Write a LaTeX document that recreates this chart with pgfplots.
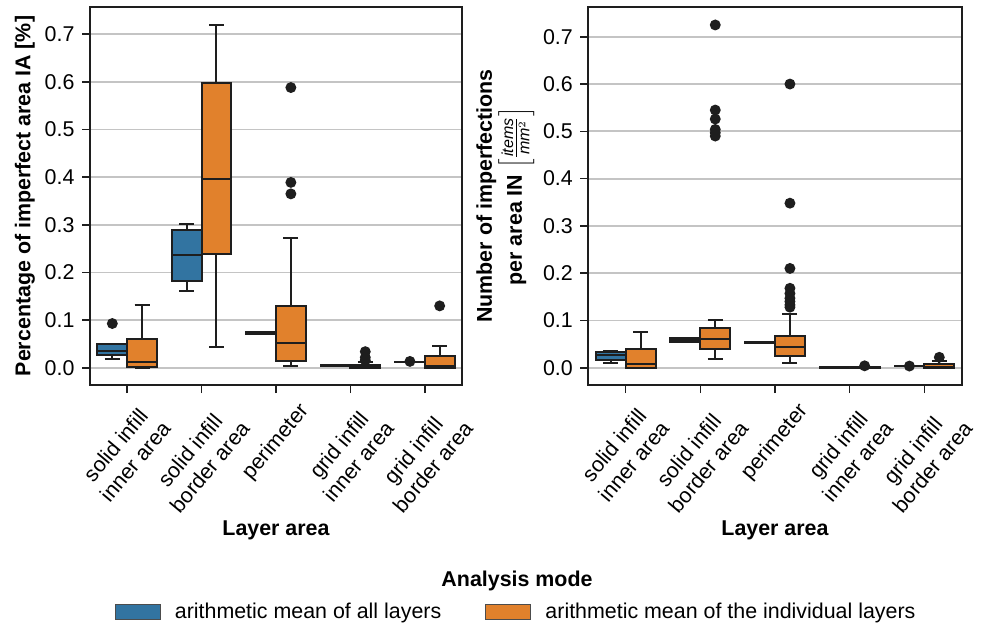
\documentclass[border=0pt]{standalone}
\usepackage{pgfplots}
\pgfplotsset{compat=1.18}
\usepgfplotslibrary{statistics}
\usepackage{fontspec}
\setmainfont{Liberation Sans}
\usepackage{graphicx}
\definecolor{c1}{HTML}{3274A1}
\definecolor{c2}{HTML}{E1812C}
\definecolor{edge}{HTML}{1E1E1E}
\definecolor{gridc}{HTML}{C4C4C4}
\newcommand{\fs}{\fontsize{10.7}{12.8}\selectfont}
\pgfplotsset{
  bblue/.style={draw=edge, fill=c1, line width=1pt, solid, mark=*, mark size=2.2pt,
      mark options={fill=edge, draw=edge, solid}},
  borange/.style={draw=edge, fill=c2, line width=1pt, solid, mark=*, mark size=2.2pt,
      mark options={fill=edge, draw=edge, solid}},
  common/.style={
    scale only axis, width=186pt, height=189pt,
    xmin=-0.5, xmax=4.5,
    xtick={0,1,2,3,4},
    ytick={0,0.1,0.2,0.3,0.4,0.5,0.6,0.7},
    tick pos=left, tick align=outside, major tick length=4pt,
    tick style={edge, line width=0.8pt},
    axis line style={edge, line width=1pt},
    ymajorgrids, grid style={gridc, line width=0.9pt},
    /pgf/number format/assume math mode=true,
    yticklabel style={font=\fs, /pgf/number format/fixed, /pgf/number format/precision=1,
      /pgf/number format/fixed zerofill},
    x tick label style={font=\fs, anchor=north, inner sep=0pt, yshift=-4pt},
    xticklabels={
      {\rotatebox{50}{\begin{tabular}{@{}c@{}}solid infill\\inner area\end{tabular}}},
      {\rotatebox{50}{\begin{tabular}{@{}c@{}}solid infill\\border area\end{tabular}}},
      {\rotatebox{50}{perimeter}},
      {\rotatebox{50}{\begin{tabular}{@{}c@{}}grid infill\\inner area\end{tabular}}},
      {\rotatebox{50}{\begin{tabular}{@{}c@{}}grid infill\\border area\end{tabular}}}},
    xlabel={Layer area},
    xlabel style={font=\fs\bfseries, at={(axis description cs:0.5,-0.384)}, anchor=center},
    ylabel style={font=\fs\bfseries, rotate=0, anchor=center},
  },
}
% #1 style, #2 position, #3 lower whisker, #4 lower quartile, #5 median, #6 upper quartile, #7 upper whisker
\newcommand{\bp}[7]{\addplot[#1, boxplot prepared={draw direction=y, draw position=#2, lower whisker=#3,
      lower quartile=#4, median=#5, upper quartile=#6, upper whisker=#7,
      box extend=0.4, whisker extend=0.2}]}
\begin{document}
\fs
\begin{tikzpicture}
\useasboundingbox (0,0) rectangle (491.5pt,314.5pt);
\begin{axis}[common, at={(45pt,122pt)}, anchor=south west,
  ymin=-0.036, ymax=0.757,
  ylabel={Percentage of imperfect area IA [\%]},
  ylabel style={at={(axis description cs:-0.175,0.5)}},
  legend columns=2,
  legend style={draw=none, fill=none, font=\fs, at={(axis description cs:1.148,-0.6005)}, anchor=center,
    /tikz/every odd column/.append style={column sep=5pt},
    /tikz/every even column/.append style={column sep=20pt}},
]
\addlegendimage{legend image code/.code={\draw[fill=c1, draw=gray!60!black, line width=0.6pt] (0pt,-3.75pt) rectangle (22.5pt,3.75pt);}}
\addlegendentry{arithmetic mean of all layers}
\addlegendimage{legend image code/.code={\draw[fill=c2, draw=gray!60!black, line width=0.6pt] (0pt,-3.75pt) rectangle (22.5pt,3.75pt);}}
\addlegendentry{arithmetic mean of the individual layers}
% solid infill inner area
\bp{bblue}{-0.2}{0.019}{0.028}{0.036}{0.051}{0.051} table[row sep=\\, y index=0] {y\\ 0.093\\};
\bp{borange}{0.2}{0.0}{0.001}{0.013}{0.061}{0.132} coordinates {};
% solid infill border area
\bp{bblue}{0.8}{0.162}{0.182}{0.236}{0.289}{0.302} coordinates {};
\bp{borange}{1.2}{0.043}{0.238}{0.396}{0.597}{0.720} coordinates {};
% perimeter
\bp{bblue}{1.8}{0.071}{0.072}{0.073}{0.075}{0.076} coordinates {};
\bp{borange}{2.2}{0.003}{0.015}{0.0525}{0.1295}{0.272} table[row sep=\\, y index=0] {y\\ 0.365\\ 0.389\\ 0.588\\};
% grid infill inner area
\bp{bblue}{2.8}{0.004}{0.0045}{0.005}{0.0055}{0.006} coordinates {};
\bp{borange}{3.2}{0.0}{0.0}{0.001}{0.006}{0.013} table[row sep=\\, y index=0] {y\\ 0.016\\ 0.022\\ 0.034\\};
% grid infill border area
\bp{bblue}{3.8}{0.012}{0.012}{0.0125}{0.013}{0.013} table[row sep=\\, y index=0] {y\\ 0.0135\\};
\bp{borange}{4.2}{0.0}{0.0}{0.0035}{0.024}{0.0455} table[row sep=\\, y index=0] {y\\ 0.130\\};
\end{axis}

\begin{axis}[common, at={(294.15pt,122pt)}, anchor=south west, width=186.7pt,
  ymin=-0.0366, ymax=0.763,
  ylabel={Number of imperfections\\per area IN $\left[\frac{\mbox{\footnotesize\mdseries\itshape items}}{\mbox{\footnotesize\mdseries\itshape mm}^{2}}\right]$},
  ylabel style={align=center, at={(axis description cs:-0.222,0.5)}},
]
\bp{bblue}{-0.2}{0.011}{0.016}{0.026}{0.034}{0.035} coordinates {};
\bp{borange}{0.2}{0.0}{0.0}{0.008}{0.0395}{0.076} coordinates {};
\bp{bblue}{0.8}{0.054}{0.055}{0.059}{0.062}{0.063} coordinates {};
\bp{borange}{1.2}{0.019}{0.040}{0.061}{0.085}{0.101} table[row sep=\\, y index=0] {y\\ 0.490\\ 0.497\\ 0.504\\ 0.526\\ 0.545\\ 0.725\\};
\bp{bblue}{1.8}{0.052}{0.0525}{0.0535}{0.0545}{0.055} coordinates {};
\bp{borange}{2.2}{0.009}{0.025}{0.043}{0.067}{0.1135} table[row sep=\\, y index=0] {y\\ 0.128\\ 0.133\\ 0.140\\ 0.147\\ 0.157\\ 0.168\\ 0.210\\ 0.348\\ 0.600\\};
\bp{bblue}{2.8}{0.0}{0.0003}{0.0005}{0.0008}{0.001} coordinates {};
\bp{borange}{3.2}{0.0}{0.0}{0.0005}{0.001}{0.002} table[row sep=\\, y index=0] {y\\ 0.004\\};
\bp{bblue}{3.8}{0.003}{0.0033}{0.0035}{0.0038}{0.004} table[row sep=\\, y index=0] {y\\ 0.0035\\};
\bp{borange}{4.2}{0.0}{0.0}{0.002}{0.008}{0.014} table[row sep=\\, y index=0] {y\\ 0.022\\};
\end{axis}

\node[font=\fs\bfseries] at (258.5pt,24pt) {Analysis mode};
\end{tikzpicture}
\end{document}
